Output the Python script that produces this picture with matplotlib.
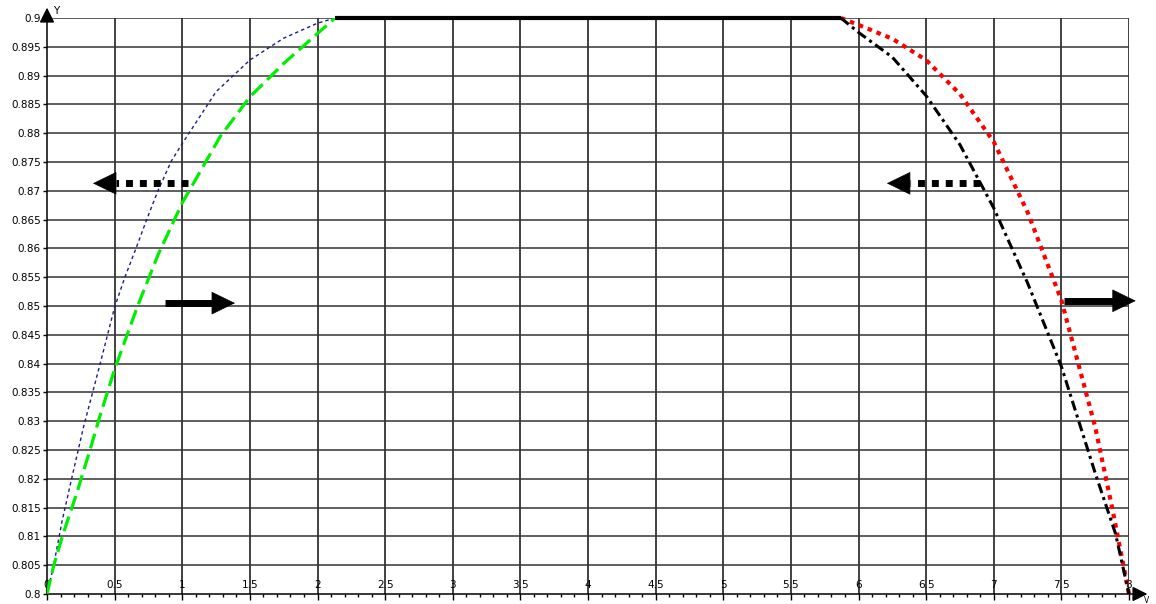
import matplotlib
matplotlib.use('Agg')
import matplotlib.pyplot as plt
import numpy as np

plt.rcParams['font.family'] = 'DejaVu Sans'
plt.rcParams['font.size'] = 7.5

# rising branches (left)
x_blue = [0, 0.047, 0.11, 0.18, 0.27, 0.39, 0.5, 0.576, 0.658, 0.737, 0.82, 0.92,
          1.0, 1.25, 1.5, 1.75, 2.0, 2.13]
y_blue = [0.8, 0.8047, 0.8125, 0.8198, 0.829, 0.8397, 0.8498, 0.855, 0.86, 0.865, 0.87, 0.8752,
          0.8782, 0.8872, 0.8927, 0.8965, 0.8991, 0.9]

x_green = [0, 0.047, 0.12, 0.22, 0.318, 0.39, 0.5, 0.67, 0.823, 1.0, 1.28, 1.5,
           1.75, 2.0, 2.13]
y_green = [0.8, 0.8047, 0.8105, 0.8175, 0.825, 0.8308, 0.839, 0.85, 0.859, 0.8679, 0.8794, 0.8863,
           0.8921, 0.8973, 0.9]

# plateau
x_top = [2.13, 5.87]
y_top = [0.9, 0.9]

# falling branches (right)
x_red = [5.87, 6.0, 6.25, 6.5, 6.75, 7.0, 7.25, 7.5, 7.75, 7.875, 8.0]
y_red = [0.9, 0.8988, 0.8964, 0.8927, 0.8868, 0.8785, 0.8663, 0.851, 0.829, 0.815, 0.8]

x_dashdot = [5.87, 6.0, 6.25, 6.5, 6.75, 7.0, 7.25, 7.5, 7.75, 7.9, 8.0]
y_dashdot = [0.9, 0.8975, 0.8932, 0.8865, 0.878, 0.867, 0.854, 0.8395, 0.821, 0.8105, 0.8]

x_ticks = np.arange(0, 8.01, 0.5)
x_ticklabels = ['0', '0.5', '1', '1.5', '2', '2.5', '3', '3.5', '4', '4.5', '5',
                '5.5', '6', '6.5', '7', '7.5', '8']
y_ticks = np.round(np.arange(0.8, 0.9001, 0.005), 3)
y_ticklabels = ['0.8'] + ['%g' % v for v in y_ticks[1:]]

fig = plt.figure(figsize=(11.56, 6.04), dpi=100)
ax = fig.add_axes([47 / 1156, 10 / 604, 1082 / 1156, 576 / 604])
ax.set_xlim(0, 8)
ax.set_ylim(0.8, 0.9)
for s in ax.spines.values():
    s.set_visible(False)

# grid
for xv in x_ticks[1:]:
    ax.axvline(xv, color='#333333', lw=1.3, zorder=1)
for yv in y_ticks[1:]:
    ax.axhline(yv, color='#333333', lw=1.1, zorder=1)

# axes with arrow heads
ax.annotate('', xy=(0, 1.018), xytext=(0, 0), xycoords='axes fraction',
            arrowprops=dict(arrowstyle='-|>,head_length=0.9,head_width=0.45', mutation_scale=10,
                            color='k', lw=1.1, shrinkA=0, shrinkB=0), annotation_clip=False)
ax.annotate('', xy=(1.017, 0), xytext=(0, 0), xycoords='axes fraction',
            arrowprops=dict(arrowstyle='-|>,head_length=0.9,head_width=0.45', mutation_scale=10,
                            color='k', lw=1.1, shrinkA=0, shrinkB=0), annotation_clip=False)
ax.text(0.0058, 1.013, 'Y', transform=ax.transAxes, ha='left', va='center', fontsize=7.5)
ax.text(1.0165, -0.003, 'V', transform=ax.transAxes, ha='center', va='top', fontsize=5.5)

# ticks
ax.set_yticks(y_ticks)
ax.set_yticklabels(y_ticklabels)
ax.set_xticks(x_ticks)
ax.set_xticks(np.arange(0, 8.01, 0.1), minor=True)
ax.set_xticklabels([])
ax.tick_params(axis='y', length=3, width=1, pad=1.5, direction='out')
ax.tick_params(axis='x', which='major', length=4, width=1, direction='out')
ax.tick_params(axis='x', which='minor', length=2.5, width=1, direction='out')
for xv, lab in zip(x_ticks, x_ticklabels):
    ax.annotate(lab, (xv, 0.8), xytext=(0, 3), textcoords='offset points',
                ha='center', va='bottom', fontsize=7.5, zorder=2)

# curves
ax.plot(x_blue, y_blue, color='#1c1c90', lw=1.0, linestyle=(0, (2.5, 2.2)), zorder=3)
ax.plot(x_green, y_green, color='#00ee00', lw=2.3, linestyle=(0, (4.8, 2.0)), zorder=3)
ax.plot(x_red, y_red, color='#ff0000', lw=3.0, linestyle=(0, (1.1, 1.2)), zorder=3,
        clip_on=False)
ax.plot(x_dashdot, y_dashdot, color='k', lw=2.2, linestyle=(0, (3.3, 1.4, 1.0, 1.4)), zorder=4,
        clip_on=False)
ax.plot(x_top, y_top, color='k', lw=3.0, solid_capstyle='butt', zorder=4, clip_on=False)

# direction arrows
def fat_arrow(x_tail, x_tip, y, dotted=False):
    neck = x_tip + (0.17 if x_tip < x_tail else -0.17)
    ls = (0, (1.0, 1.0)) if dotted else '-'
    ax.plot([x_tail, neck], [y, y], color='k', lw=5, linestyle=ls,
            solid_capstyle='butt', dash_capstyle='butt', zorder=5, clip_on=False)
    ax.annotate('', xy=(x_tip, y), xytext=(neck, y),
                arrowprops=dict(arrowstyle='-|>,head_length=1.6,head_width=0.78',
                                mutation_scale=10, color='k', lw=0.5,
                                shrinkA=0, shrinkB=0), annotation_clip=False, zorder=5)

fat_arrow(1.04, 0.34, 0.8713, dotted=True)
fat_arrow(0.872, 1.39, 0.8505)
fat_arrow(6.90, 6.21, 0.8713, dotted=True)
fat_arrow(7.52, 8.05, 0.8509)

fig.savefig('out.png', dpi=100)
